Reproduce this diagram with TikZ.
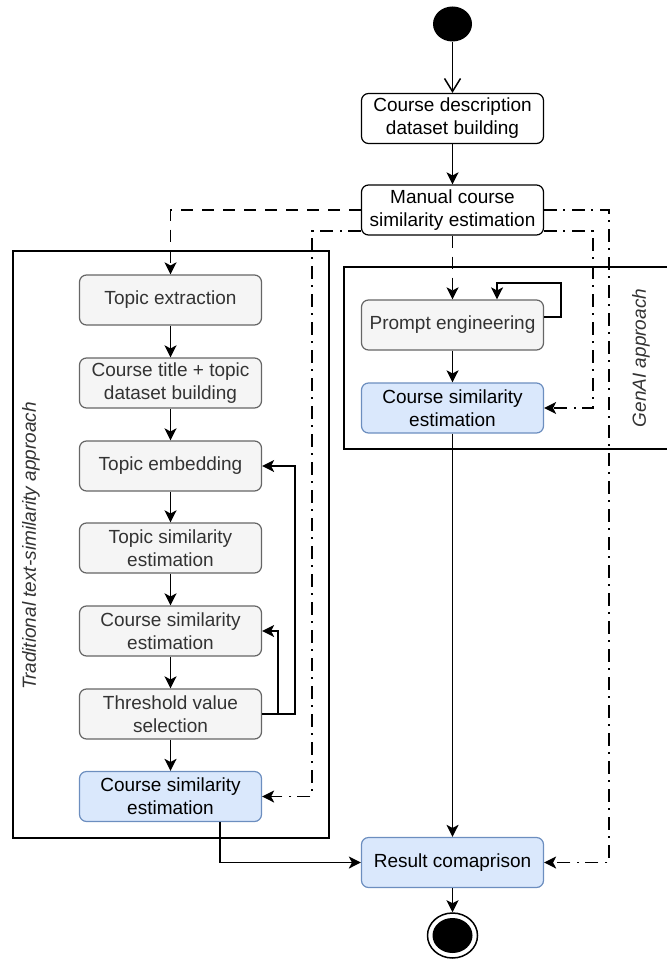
\documentclass[tikz,border=0pt]{standalone}
\usepackage{fontspec}
\setmainfont{Liberation Sans}
\usetikzlibrary{arrows.meta,calc,shapes.geometric}
\definecolor{grayfill}{HTML}{F5F5F5}
\definecolor{graydraw}{HTML}{666666}
\definecolor{graytext}{HTML}{333333}
\definecolor{bluefill}{HTML}{DAE8FC}
\definecolor{bluedraw}{HTML}{6C8EBF}
\begin{document}
\begin{tikzpicture}[x=1pt,y=-1pt,
  font=\fontsize{19}{23}\selectfont,
  box/.style={rounded corners=7pt, minimum width=182pt, minimum height=50pt, inner sep=0pt, align=center, line width=1.2pt},
  plainbox/.style={box, draw=black, fill=white},
  greybox/.style={box, draw=graydraw, fill=grayfill, text=graytext},
  bluebox/.style={box, draw=bluedraw, fill=bluefill},
  flow/.style={line width=1.5pt, -{Stealth[length=12pt,width=12pt,inset=3pt]}},
  dsh/.style={flow, dash pattern=on 12pt off 9pt},
  dshdot/.style={flow, dash pattern=on 13pt off 6pt on 2pt off 7pt},
  lane/.style={draw=black, line width=1.5pt},
  lanelabel/.style={rotate=90, font=\fontsize{19}{23}\selectfont\itshape, text=graytext}
]
\useasboundingbox (0,0) rectangle (666,960);

% swimlanes
\draw[lane] (13,251) rectangle (329,838);
\node[lanelabel] (lab1) at (31,546) {Traditional text-similarity approach};
\draw[lane] (344,267) rectangle (672,449);
\node[lanelabel] (lab2) at (641,358) {GenAI approach};

% start / end
\node[ellipse, fill=black, minimum width=39pt, minimum height=35pt, inner sep=0pt] (start) at (452.5,24) {};
\node[ellipse, draw=black, line width=1.5pt, fill=white, minimum width=50pt, minimum height=45pt, inner sep=0pt] (end) at (452.5,935.5) {};
\node[ellipse, fill=black, minimum width=40pt, minimum height=35pt, inner sep=0pt] (endin) at (452.5,935.5) {};

% top boxes
\node[plainbox] (b1) at (452.5,118.5) {Course description\\dataset building};
\node[plainbox] (b2) at (452.5,210) {Manual course\\similarity estimation};

% left column
\node[greybox] (t1) at (170.5,300) {Topic extraction};
\node[greybox] (t2) at (170.5,383) {Course title + topic\\dataset building};
\node[greybox] (t3) at (170.5,466) {Topic embedding};
\node[greybox] (t4) at (170.5,548) {Topic similarity\\estimation};
\node[greybox] (t5) at (170.5,631) {Course similarity\\estimation};
\node[greybox] (t6) at (170.5,714) {Threshold value\\selection};
\node[bluebox] (t7) at (170.5,796.5) {Course similarity\\estimation};

% GenAI column
\node[greybox] (g1) at (452.5,325) {Prompt engineering};
\node[bluebox] (g2) at (452.5,408) {Course similarity\\estimation};

% result
\node[bluebox] (res) at (452.5,862.5) {Result comaprison};

% connectors
\draw[line width=1.5pt, -{Straight Barb[length=13pt,width=16pt]}] (start) -- (b1);
\draw[flow] (b1) -- (b2);
\draw[dsh] (b2.west) -| (t1.north);
\draw[dsh] (b2.south) -- (g1.north);
\draw[dshdot] (b2.east) -- (609,210) |- (res.east);
\draw[dshdot] ([yshift=-21pt]b2.west) -- (312,231) |- (t7.east);
\draw[dshdot] ([yshift=-21pt]b2.east) -- (593,231) |- (g2.east);

\draw[flow] (t1) -- (t2);
\draw[flow] (t2) -- (t3);
\draw[flow] (t3) -- (t4);
\draw[flow] (t4) -- (t5);
\draw[flow] (t5) -- (t6);
\draw[flow] (t6) -- (t7);
\draw[flow] (t6.east) -- ++(33,0) |- (t3.east);
\draw[flow] (t6.east) -- ++(16,0) |- (t5.east);
\draw[flow] ([xshift=49.5pt]t7.south) |- (res.west);

\draw[flow] ([yshift=8pt]g1.east) -- ++(17,0) -- ++(0,-34) -| ([xshift=44.5pt]g1.north);
\draw[flow] (g1) -- (g2);
\draw[flow] (g2) -- (res);
\draw[flow] (res) -- (end);
\end{tikzpicture}
\end{document}
